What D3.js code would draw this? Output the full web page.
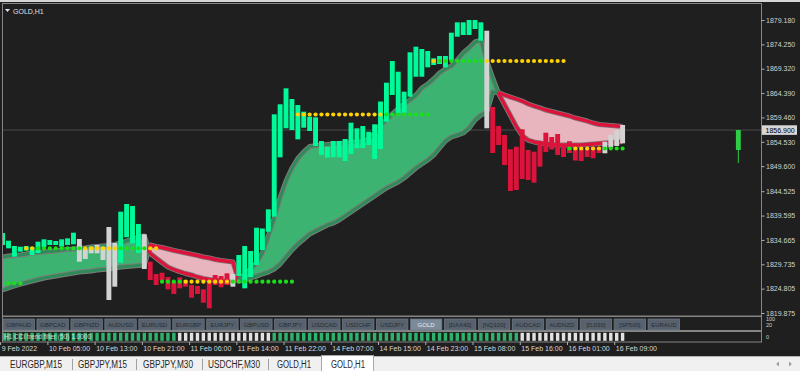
<!DOCTYPE html>
<html><head><meta charset="utf-8">
<script src="https://cdn.jsdelivr.net/npm/d3@7"></script>
<style>
html,body{margin:0;padding:0;background:#1f1f1f;overflow:hidden;}
svg{display:block;font-family:'Liberation Sans',Arial,sans-serif;}
</style></head><body>
<svg id="chart" width="800" height="371"></svg>
<script>
// ---------------- DATA ----------------
const symbol = "GOLD,H1";
const opens = [1833.64,1832.97,1831.27,1832.28,1832.48,1831.61,1832.02,1833.17,1833.64,1833.64,1833.29,1833.64,1833.78,
1834.85,1832.83,1833.29,1833.64,1833.29,1837.28,1834.04,
1830.06,1835.20,1833.98,1832.02,
1835.80,
1830.26,1827.77,1828.03,1827.16,1826.21,1827.10,1826.55,1825.54,1825.34,1824.67,1826.21,1827.57,1827.36,1827.91,
1827.77,
1827.36,1824.87,1827.16,1829.59,1832.63,1836.33,1839.37,1851.39,1857.26,1856.91,1855.03,1857.38,1856.71,1853.68,1851.85,1851.31,1851.39,1851.39,1850.64,1852.06,1853.21,1853.27,1853.88,1851.04,1853.07,1858.59,1864.00,1860.29,1860.42,1863.65,1867.70,1867.70,1869.60,1870.07,1870.27,1869.60,1871.08,1875.80,1876.14,1876.14,1877.36,1874.99,
1877.01,
1861.57,1857.72,1855.90,1853.01,1853.53,1857.06,1852.87,1852.52,1854.69,1856.37,1855.50,1856.10,1853.78,1854.65,1853.57,1853.07,1853.17,1853.53,1853.57,
1854.55,1855.90,1856.85,1857.93];
const closes = [1836.07,1834.51,1833.44,1833.29,1833.44,1833.23,1834.31,1834.79,1834.65,1834.45,1834.79,1834.99,1836.13,
1830.26,1830.80,1831.96,1831.96,1830.60,1822.51,1825.20,
1840.38,1841.94,1841.53,1837.89,
1828.78,
1826.55,1825.54,1826.55,1824.67,1823.72,1824.87,1825.20,1822.97,1823.72,1821.96,1820.83,1825.54,1825.08,1825.54,
1825.20,
1831.61,1833.44,1832.42,1837.14,1836.98,1840.86,1860.09,1862.12,1865.35,1863.19,1861.97,1860.62,1859.61,1859.48,1854.69,1853.53,1854.69,1854.69,1855.09,1858.39,1857.26,1857.72,1856.57,1858.07,1862.68,1866.49,1870.88,1868.71,1864.67,1872.64,1873.77,1873.31,1872.90,1871.43,1871.89,1871.89,1876.61,1878.71,1878.71,1879.18,1879.18,1878.71,
1857.26,
1852.26,1853.88,1849.83,1844.57,1844.77,1847.00,1846.79,1846.25,1849.49,1852.46,1852.97,1851.85,1851.45,1852.26,1850.74,1850.64,1851.45,1851.19,1852.26,
1852.20,1853.37,1853.68,1854.22];
// bar colour state runs: G = up, R = down, W = neutral
const barStateRuns = [['G',13],['W',7],['G',4],['W',1],['R',14],['W',1],['G',42],['W',1],['R',19],['W',4]];
// ribbon lines
const bandFast = [1831.21,1831.41,1831.51,1831.61,1831.82,1832.02,1832.12,1832.22,1832.32,1832.42,1832.63,1832.73,1832.83,1832.93,1833.03,1833.23,1833.33,1833.44,1833.54,1833.74,1834.04,1834.45,1834.85,1835.16,1835.46,
1831.92,1831.01,1830.10,1829.19,1828.68,1828.27,1827.87,1827.57,1827.16,1826.86,1826.65,1826.49,1826.35,1826.25,1826.15,
1826.96,1827.57,1828.78,1829.99,1832.02,1835.46,1839.10,1843.21,1846.59,1849.16,1851.15,1852.48,1853.57,1853.74,1853.88,1853.98,1854.08,1854.18,1854.28,1854.38,1854.49,1854.59,1855.09,1856.10,1857.93,1858.94,1860.15,1861.16,1862.18,1862.99,1864.00,1865.41,1866.22,1867.24,1868.45,1869.26,1869.87,1871.08,1872.50,1873.51,1874.73,1875.13,
1870.88,1867.44,1864.30,1862.08,1859.85,1857.62,1855.80,1854.89,1854.49,1854.28,1854.08,1853.98,1853.88,1853.88,1853.88,1853.88,1853.88,1853.98,1854.08,1854.18,1854.28,1854.38,1854.49,1854.59];
const bandSlow = [1824.53,1824.94,1825.34,1825.74,1826.05,1826.35,1826.65,1826.96,1827.16,1827.36,1827.57,1827.77,1827.97,1828.17,1828.27,1828.38,1828.58,1828.68,1828.78,1828.98,1829.19,1829.29,1829.39,1829.49,1829.59,
1833.64,1833.33,1833.13,1832.83,1832.53,1832.28,1832.02,1831.76,1831.51,1831.21,1831.01,1830.70,1830.50,1830.36,1830.20,
1826.35,1826.55,1826.96,1827.36,1827.77,1828.17,1828.78,1829.79,1831.21,1832.63,1833.84,1834.85,1835.86,1836.47,1837.08,1837.69,1838.09,1838.70,1839.51,1840.32,1841.13,1841.94,1842.75,1843.56,1844.37,1845.18,1845.78,1846.39,1847.20,1848.21,1849.22,1850.03,1850.84,1851.85,1853.27,1854.69,1855.50,1855.90,1856.31,1857.32,1858.94,1859.95,
1860.56,1864.61,1864.50,1864.00,1863.59,1863.19,1862.78,1862.18,1861.77,1861.37,1860.96,1860.66,1860.35,1860.05,1859.75,1859.34,1859.04,1858.73,1858.33,1858.03,1857.93,1857.82,1857.72,1857.62];
// dotted levels
const levelPrice = [1825.89, 1832.97, 1826.21, 1860.05, 1870.88, 1853.17];
const levelStart = [0, 4, 27, 50, 73, 96];
const levelColors = ["GGGG","YYGGGGGGGGYYYYYYGGGGGYY","GGGGYYYYYYYYGGGGGGGGGGG","YYYYYYYYYYYYYYYGGGGGGGG","YGGGGGGGGYYYYYYYYYYYYYY","GYYYYYGGGG"];
// lower filter strip
const filterRuns = [['G',30],['W',16],['G',42],['W',18]];
// separate projected candle on the right
const extraIndex = [124.6];
const extraOpen = [1852.87], extraClose = [1856.91], extraHigh = [1856.91], extraLow = [1850.24];
const currentPrice = 1856.900;
const yTickLabels = ["1879.180","1874.250","1869.320","1864.390","1859.460","1854.530","1849.600","1844.525","1839.595","1834.665","1829.735","1824.805","1819.875"];
const xLabelBars = [0,8,16,24,32,40,48,56,64,72,80,88,96,104];
const xLabels = ["9 Feb 2022","10 Feb 05:00","10 Feb 13:00","10 Feb 21:00","11 Feb 06:00","11 Feb 14:00","11 Feb 22:00","14 Feb 07:00","14 Feb 15:00","14 Feb 23:00","15 Feb 08:00","15 Feb 16:00","16 Feb 01:00","16 Feb 09:00"];
const buttons = ["GBPAUD","GBPCAD","GBPNZD","AUDUSD","EURUSD","EURGBP","EURJPY","GBPUSD","GBPJPY","USDCAD","USDCHF","USDJPY","GOLD","[DAX40]","[NQ100]","AUDCAD","AUDNZD","[DJI30]","[SP500]","EURAUD"];
const tabs = ["EURGBP,M15","GBPJPY,M15","GBPJPY,M30","USDCHF,M30","GOLD,H1","GOLD,H1"];
const subScaleLabels = ["100","20","0"];
const filterCaption = "H1 CCI trend filter (50) 1.0000";

// ---------------- DRAW ----------------
const svg = d3.select('#chart');
const W = 800, H = 371;
const expand = runs => runs.flatMap(([c,n]) => d3.range(n).map(() => c));
const barState = expand(barStateRuns);
const filterState = expand(filterRuns);
const N = opens.length;

svg.append('rect').attr('width', W).attr('height', H).attr('fill', '#1f1f1f');
svg.append('rect').attr('width', W).attr('height', 2).attr('fill', '#d6d6d6');

const x = d3.scaleLinear().domain([0, 105]).range([2.6, 622.6]);
const y = d3.scaleLinear().domain([1819.875, 1879.18]).range([313, 20]);
const bw = 4.9;

const defs = svg.append('defs');
defs.append('clipPath').attr('id', 'mainClip').append('rect')
  .attr('x', 3).attr('y', 4).attr('width', 758).attr('height', 312);
const main = svg.append('g').attr('clip-path', 'url(#mainClip)');

// current price line
main.append('line').attr('x1', 3).attr('x2', 761).attr('y1', y(currentPrice)).attr('y2', y(currentPrice))
  .attr('stroke', '#4a4a4a').attr('stroke-width', 1);

// ribbon
const P = d3.range(N).map(i => ({x: x(i), f: y(bandFast[i]), s: y(bandSlow[i])}));
const runs = [];
let cur = {up: P[0].f <= P[0].s, pts: [P[0]]};
for (let i = 1; i < N; i++) {
  const a = P[i-1], b = P[i], up = b.f <= b.s;
  if (up !== cur.up) {
    const da = a.f - a.s, db = b.f - b.s, t = da / (da - db);
    const c = {x: a.x + t*(b.x - a.x), f: a.f + t*(b.f - a.f)}; c.s = c.f;
    cur.pts.push(c); runs.push(cur); cur = {up, pts: [c]};
  }
  cur.pts.push(b);
}
runs.push(cur);
const area = d3.area().x(d => d.x).y0(d => d.f).y1(d => d.s);
const lf = d3.line().x(d => d.x).y(d => d.f);
const ls = d3.line().x(d => d.x).y(d => d.s);
const band = main.append('g');
band.selectAll('path.fill').data(runs).join('path').attr('class','fill')
  .attr('d', d => area(d.pts)).attr('fill', d => d.up ? '#3cb371' : '#e8b5bf');
runs.forEach(r => {
  [lf, ls].forEach(gen => {
    band.append('path').attr('d', gen(r.pts)).attr('fill', 'none')
      .attr('stroke', '#7c7c7c').attr('stroke-width', 5).attr('stroke-linejoin','round');
  });
});
runs.forEach(r => {
  [lf, ls].forEach(gen => {
    band.append('path').attr('d', gen(r.pts)).attr('fill', 'none')
      .attr('stroke', r.up ? '#2e8b57' : '#dc143c').attr('stroke-width', r.up ? 3 : 3.4).attr('stroke-linejoin','round');
  });
});

// bars
const barColor = {G: '#00fa9a', R: '#dc143c', W: '#d3d3d3'};
main.selectAll('rect.bar').data(d3.range(N)).join('rect').attr('class','bar')
  .attr('x', i => x(i) - bw/2).attr('width', bw)
  .attr('y', i => y(Math.max(opens[i], closes[i])))
  .attr('height', i => Math.max(1, Math.abs(y(opens[i]) - y(closes[i]))))
  .attr('fill', i => barColor[barState[i]]);

// extra candle
extraIndex.forEach((ix, k) => {
  main.append('line').attr('x1', x(ix)).attr('x2', x(ix)).attr('y1', y(extraHigh[k])).attr('y2', y(extraLow[k]))
    .attr('stroke', '#2ecc45').attr('stroke-width', 1);
  main.append('rect').attr('x', x(ix) - bw/2).attr('width', bw)
    .attr('y', y(Math.max(extraOpen[k], extraClose[k])))
    .attr('height', Math.abs(y(extraOpen[k]) - y(extraClose[k])))
    .attr('fill', '#2ecc45');
});

// dots
const dots = [];
levelPrice.forEach((p, k) => {
  for (let j = 0; j < levelColors[k].length; j++) dots.push({i: levelStart[k] + j, p, c: levelColors[k][j]});
});
main.selectAll('circle.dot').data(dots).join('circle').attr('class','dot')
  .attr('cx', d => x(d.i)).attr('cy', d => y(d.p)).attr('r', 2.1)
  .attr('fill', d => d.c === 'Y' ? '#ffd200' : '#19e019');

// frames
const frameC = '#858585';
svg.append('rect').attr('x', 2.5).attr('y', 3.5).attr('width', 759).attr('height', 312.5)
  .attr('fill', 'none').attr('stroke', frameC);
svg.append('rect').attr('x', 2.5).attr('y', 316.5).attr('width', 759).attr('height', 14)
  .attr('fill', '#1f1f1f').attr('stroke', frameC);
svg.append('rect').attr('x', 2.5).attr('y', 331.5).attr('width', 759).attr('height', 10.5)
  .attr('fill', '#1f1f1f').attr('stroke', frameC);

// title
svg.append('path').attr('d', 'M5,9 L10,9 L7.5,12 Z').attr('fill', '#e8e8e8');
svg.append('text').attr('x', 13).attr('y', 13.5).attr('font-size', 7).attr('fill', '#e0e0e0').text(symbol);

// y axis
const yAxis = d3.axisRight(y).tickValues(yTickLabels.map(Number)).tickSize(3).tickPadding(1.5)
  .tickFormat((d, i) => yTickLabels[i]);
const gy = svg.append('g').attr('transform', 'translate(761.5,0)').call(yAxis);
gy.select('.domain').remove();
gy.attr('font-size', 7).attr('font-family', "'Liberation Sans',Arial,sans-serif");
gy.selectAll('line').attr('stroke', '#b0b0b0');
gy.selectAll('text').attr('fill', '#d0d0d0');

// current price label
svg.append('rect').attr('x', 762).attr('y', y(currentPrice) - 4.8).attr('width', 35).attr('height', 9.6).attr('fill', '#d6d6d6');
svg.append('text').attr('x', 765.5).attr('y', y(currentPrice)).attr('dy', '0.35em').attr('font-size', 7)
  .attr('fill', '#000').text(currentPrice.toFixed(3));

// sub panel scale labels
const subY = [318.8, 325.2, 337.5];
subScaleLabels.forEach((t, i) => {
  svg.append('text').attr('x', 766).attr('y', subY[i]).attr('dy', '0.35em').attr('font-size', 5.5).attr('fill', '#d0d0d0').text(t);
});

// buttons
const bx = d3.scaleBand().domain(buttons).range([3, 679.5]).paddingInner(0.075);
const bg = svg.append('g');
bg.selectAll('rect').data(buttons).join('rect')
  .attr('x', d => bx(d)).attr('y', 319).attr('width', bx.bandwidth()).attr('height', 11)
  .attr('fill', d => d === 'GOLD' ? '#7b8b9c' : '#58626e').attr('stroke', '#6c7682').attr('stroke-width', 0.8);
bg.selectAll('text').data(buttons).join('text')
  .attr('x', d => bx(d) + bx.bandwidth()/2).attr('y', 324.6).attr('dy', '0.35em')
  .attr('text-anchor', 'middle').attr('font-size', 6).attr('fill', d => d === 'GOLD' ? '#e8ecef' : '#262c34').text(d => d);

// filter strip
const fc = {G: '#2fb36c', W: '#e2e2e2'};
svg.append('g').selectAll('rect').data(d3.range(filterState.length)).join('rect')
  .attr('x', i => Math.max(3, x(i) - 1.7)).attr('width', 3.4).attr('y', 332.8).attr('height', 8)
  .attr('fill', i => fc[filterState[i]]);
svg.append('text').attr('x', 4).attr('y', 337).attr('dy', '0.35em').attr('font-size', 6.5)
  .attr('fill', '#e8e8e8').attr('opacity', 0.85).text(filterCaption);

// x axis
const xt = d3.scaleLinear().domain(x.domain()).range(x.range().map(v => v - bw/2));
const xAxis = d3.axisBottom(xt).tickValues(xLabelBars).tickSize(3).tickPadding(1).tickFormat((d, i) => xLabels[i]);
const gx = svg.append('g').attr('transform', 'translate(0,342)').call(xAxis);
gx.select('.domain').remove();
gx.attr('font-size', 7).attr('font-family', "'Liberation Sans',Arial,sans-serif");
gx.selectAll('line').attr('stroke', '#b0b0b0');
gx.selectAll('text').attr('text-anchor', 'start').attr('x', 1).attr('fill', '#d8d8d8');

// bottom tab bar
svg.append('rect').attr('x', 0).attr('y', 356).attr('width', W).attr('height', 15).attr('fill', '#f0f0f0');
svg.append('line').attr('x1', 0).attr('x2', W).attr('y1', 356.5).attr('y2', 356.5).attr('stroke', '#b4b4b4');
svg.append('rect').attr('x', 321.5).attr('y', 355.5).attr('width', 52).attr('height', 16).attr('fill', '#ffffff').attr('stroke', '#a8a8a8');
const tabX = [10, 78, 143, 208, 277, 331];
const tabW = [52, 49, 50, 52, 34, 34];
tabs.forEach((t, i) => {
  svg.append('text').attr('x', tabX[i]).attr('y', 368).attr('font-size', 10).attr('fill', '#262626')
    .attr('textLength', tabW[i]).attr('lengthAdjust', 'spacingAndGlyphs').text(t);
});
[72, 136, 202, 268].forEach(sx => {
  svg.append('line').attr('x1', sx + 0.5).attr('x2', sx + 0.5).attr('y1', 359).attr('y2', 370).attr('stroke', '#a0a0a0');
});
svg.append('path').attr('d', 'M779,361.5 L776,364 L779,366.5 Z').attr('fill', '#a0a0a0');
svg.append('path').attr('d', 'M789,361.5 L792,364 L789,366.5 Z').attr('fill', '#a0a0a0');
</script></body></html>
